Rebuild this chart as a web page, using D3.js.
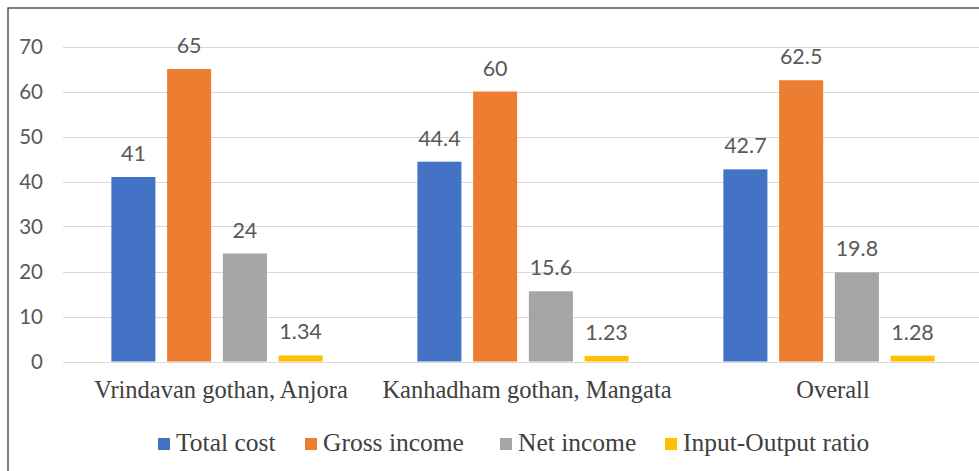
<!DOCTYPE html>
<html><head><meta charset="utf-8">
<script src="https://cdn.jsdelivr.net/npm/d3@7/dist/d3.min.js"></script>
<style>html,body{margin:0;padding:0;background:#fff;}svg{display:block;}</style>
</head><body>
<svg id="chart" width="979" height="471"></svg>
<script>
const categories = ["Vrindavan gothan, Anjora", "Kanhadham gothan, Mangata", "Overall"];
const seriesNames = ["Total cost", "Gross income", "Net income", "Input-Output ratio"];
const totalCost = [41, 44.4, 42.7];
const grossIncome = [65, 60, 62.5];
const netIncome = [24, 15.6, 19.8];
const ioRatio = [1.34, 1.23, 1.28];
const yTicks = [0, 10, 20, 30, 40, 50, 60, 70];
const colors = ["#4472C4", "#ED7D31", "#A5A5A5", "#FFC000"];

const seriesValues = [totalCost, grossIncome, netIncome, ioRatio];
const SERIF = '"Liberation Serif"';
const SANS = '"Lato"';
const svg = d3.select("#chart");

// frame
svg.append("rect").attr("x", 8).attr("y", 8).attr("width", 1100).attr("height", 600)
  .attr("fill", "none").attr("stroke", "#3a3a3a").attr("stroke-width", 1.3);

const x0 = d3.scaleBand().domain(categories).range([64, 982]).padding(0);
const x1 = d3.scaleBand().domain(seriesNames).range([0, x0.bandwidth()]).paddingInner(0.21).paddingOuter(0.85);
const y = d3.scaleLinear().domain([0, 70]).range([361.5, 46.5]);

// gridlines
svg.append("g").selectAll("line").data(yTicks).join("line")
  .attr("x1", 63).attr("x2", 979)
  .attr("y1", d => Math.round(y(d)) + 0.5).attr("y2", d => Math.round(y(d)) + 0.5)
  .attr("stroke", "#d9d9d9").attr("stroke-width", 1);

// y axis labels
svg.append("g").selectAll("text").data(yTicks).join("text")
  .attr("x", 43).attr("y", d => y(d)).attr("dy", "0.38em")
  .attr("text-anchor", "end")
  .style("font-family", SANS).style("font-size", "20.5px")
  .attr("fill", "#595959").text(d => d);

// bars
const groups = svg.append("g").selectAll("g").data(categories).join("g")
  .attr("transform", d => `translate(${x0(d)},0)`);

const cells = (c, ci) => seriesNames.map((s, si) => ({s, si, v: seriesValues[si][ci]}));

groups.selectAll("rect").data(cells).join("rect")
  .attr("x", d => x1(d.s)).attr("width", x1.bandwidth())
  .attr("y", d => y(d.v)).attr("height", d => y(0) - y(d.v))
  .attr("fill", d => colors[d.si]);

groups.selectAll("text.val").data(cells)
  .join("text").attr("class", "val")
  .attr("x", d => x1(d.s) + x1.bandwidth() / 2).attr("y", d => y(d.v) - 16)
  .attr("text-anchor", "middle")
  .style("font-family", SANS).style("font-size", "21.5px")
  .attr("fill", "#595959").text(d => d.v);

// category labels
svg.append("g").selectAll("text").data(categories).join("text")
  .attr("x", d => x0(d) + x0.bandwidth() / 2 + 4).attr("y", 398)
  .attr("text-anchor", "middle")
  .style("font-family", SERIF).style("font-size", "24.5px")
  .attr("fill", "#404040").text(d => d);

// legend
const legendX = [158, 305, 500, 665];
const lg = svg.append("g").selectAll("g").data(seriesNames).join("g")
  .attr("transform", (d, i) => `translate(${legendX[i]},0)`);
lg.append("rect").attr("x", 0).attr("y", 438).attr("width", 12).attr("height", 12)
  .attr("fill", (d, i) => colors[i]);
lg.append("text").attr("x", 18).attr("y", 451)
  .style("font-family", SERIF).style("font-size", "25.5px")
  .attr("fill", "#404040").text(d => d);
</script>
</body></html>
